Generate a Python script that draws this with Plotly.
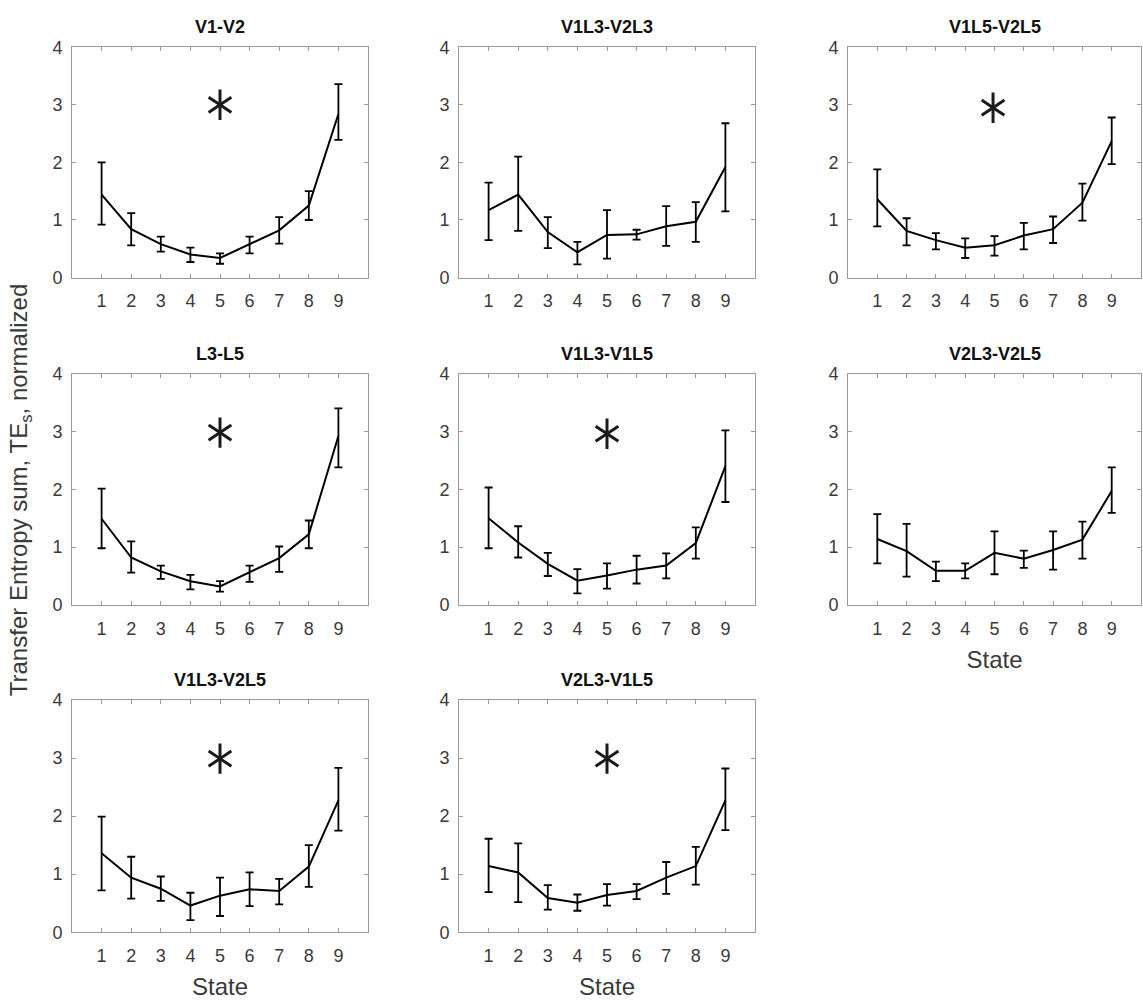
import plotly.graph_objects as go

# ---------------- data ----------------
states = [1, 2, 3, 4, 5, 6, 7, 8, 9]
panel_titles = ["V1-V2", "V1L3-V2L3", "V1L5-V2L5",
                "L3-L5", "V1L3-V1L5", "V2L3-V2L5",
                "V1L3-V2L5", "V2L3-V1L5"]

mean_v1_v2 = [1.44, 0.84, 0.58, 0.40, 0.34, 0.58, 0.82, 1.25, 2.84]
hi_v1_v2 = [2.00, 1.12, 0.71, 0.52, 0.42, 0.71, 1.05, 1.50, 3.36]
lo_v1_v2 = [0.92, 0.56, 0.45, 0.27, 0.24, 0.42, 0.59, 1.00, 2.39]

mean_v1l3_v2l3 = [1.17, 1.44, 0.79, 0.44, 0.74, 0.75, 0.89, 0.97, 1.92]
hi_v1l3_v2l3 = [1.65, 2.10, 1.05, 0.62, 1.17, 0.83, 1.24, 1.31, 2.68]
lo_v1l3_v2l3 = [0.65, 0.81, 0.51, 0.23, 0.33, 0.66, 0.55, 0.62, 1.15]

mean_v1l5_v2l5 = [1.36, 0.81, 0.65, 0.52, 0.56, 0.73, 0.84, 1.30, 2.37]
hi_v1l5_v2l5 = [1.88, 1.03, 0.77, 0.68, 0.72, 0.95, 1.06, 1.63, 2.78]
lo_v1l5_v2l5 = [0.89, 0.56, 0.49, 0.34, 0.38, 0.49, 0.60, 0.99, 1.97]

mean_l3_l5 = [1.49, 0.82, 0.58, 0.41, 0.32, 0.56, 0.81, 1.22, 2.92]
hi_l3_l5 = [2.01, 1.10, 0.68, 0.52, 0.41, 0.68, 1.01, 1.46, 3.40]
lo_l3_l5 = [0.98, 0.56, 0.45, 0.27, 0.23, 0.40, 0.57, 0.98, 2.38]

mean_v1l3_v1l5 = [1.50, 1.08, 0.71, 0.42, 0.51, 0.61, 0.68, 1.07, 2.40]
hi_v1l3_v1l5 = [2.03, 1.36, 0.90, 0.62, 0.72, 0.85, 0.89, 1.34, 3.02]
lo_v1l3_v1l5 = [0.98, 0.82, 0.50, 0.20, 0.28, 0.37, 0.46, 0.80, 1.78]

mean_v2l3_v2l5 = [1.14, 0.93, 0.59, 0.59, 0.90, 0.80, 0.95, 1.13, 1.97]
hi_v2l3_v2l5 = [1.57, 1.40, 0.75, 0.72, 1.27, 0.94, 1.27, 1.44, 2.38]
lo_v2l3_v2l5 = [0.72, 0.49, 0.41, 0.46, 0.53, 0.64, 0.61, 0.80, 1.59]

mean_v1l3_v2l5 = [1.36, 0.94, 0.75, 0.46, 0.63, 0.74, 0.71, 1.13, 2.27]
hi_v1l3_v2l5 = [1.99, 1.30, 0.96, 0.68, 0.94, 1.03, 0.92, 1.50, 2.83]
lo_v1l3_v2l5 = [0.72, 0.58, 0.54, 0.21, 0.28, 0.45, 0.48, 0.78, 1.75]

mean_v2l3_v1l5 = [1.14, 1.03, 0.59, 0.51, 0.64, 0.71, 0.94, 1.14, 2.27]
hi_v2l3_v1l5 = [1.61, 1.53, 0.81, 0.65, 0.83, 0.83, 1.21, 1.47, 2.82]
lo_v2l3_v1l5 = [0.69, 0.52, 0.39, 0.37, 0.46, 0.57, 0.66, 0.82, 1.76]

panel_means = [mean_v1_v2, mean_v1l3_v2l3, mean_v1l5_v2l5, mean_l3_l5,
               mean_v1l3_v1l5, mean_v2l3_v2l5, mean_v1l3_v2l5, mean_v2l3_v1l5]
panel_hi = [hi_v1_v2, hi_v1l3_v2l3, hi_v1l5_v2l5, hi_l3_l5,
            hi_v1l3_v1l5, hi_v2l3_v2l5, hi_v1l3_v2l5, hi_v2l3_v1l5]
panel_lo = [lo_v1_v2, lo_v1l3_v2l3, lo_v1l5_v2l5, lo_l3_l5,
            lo_v1l3_v1l5, lo_v2l3_v2l5, lo_v1l3_v2l5, lo_v2l3_v1l5]

# significance asterisk (panel index -> position)
sig_panels = [0, 2, 3, 4, 6, 7]
sig_x = [5, 4.95, 5, 5, 5, 5]
sig_y = [3.0, 2.95, 2.98, 2.96, 2.99, 2.99]

x_tick_vals = [1, 2, 3, 4, 5, 6, 7, 8, 9]
y_tick_vals = [0, 1, 2, 3, 4]
x_label = "State"
y_label = "Transfer Entropy sum, TE<sub>s</sub>, normalized"

# ---------------- layout geometry ----------------
W, H = 1143, 1004
col_px = [(72, 368), (459, 755), (848, 1141)]
row_px = [(38, 273), (371, 607), (704, 941)]
panel_pos = [(0, 0), (0, 1), (0, 2), (1, 0), (1, 1), (1, 2), (2, 0), (2, 1)]
state_label_panels = [5, 6, 7]

FONT = "Liberation Sans, Arial, sans-serif"
AX_COLOR = "#9a9a9a"
TICK_FONT_COLOR = "#3a3a3a"

fig = go.Figure()
layout_axes = {}
annotations = []

for i, (r, c) in enumerate(panel_pos):
    k = i + 1
    xa = "x" if k == 1 else f"x{k}"
    ya = "y" if k == 1 else f"y{k}"
    xkey = "xaxis" if k == 1 else f"xaxis{k}"
    ykey = "yaxis" if k == 1 else f"yaxis{k}"

    means = panel_means[i]
    err_p = [h - m for h, m in zip(panel_hi[i], means)]
    err_m = [m - l for m, l in zip(means, panel_lo[i])]

    fig.add_trace(go.Scatter(
        x=states, y=means, mode="lines",
        line=dict(color="black", width=2),
        error_y=dict(type="data", symmetric=False, array=err_p, arrayminus=err_m,
                     color="black", thickness=1.8, width=4),
        xaxis=xa, yaxis=ya, showlegend=False, hoverinfo="skip"))

    if i in sig_panels:
        j = sig_panels.index(i)
        for sym in ("y-up-open", "y-down-open"):
            fig.add_trace(go.Scatter(
                x=[sig_x[j]], y=[sig_y[j]], mode="markers",
                marker=dict(symbol=sym, size=19, color="#1a1a1a",
                            line=dict(color="#1a1a1a", width=3)),
                xaxis=xa, yaxis=ya, showlegend=False, hoverinfo="skip"))

    x0, x1 = col_px[c]
    yt, yb = row_px[r]
    xdom = [x0 / W, x1 / W]
    ydom = [1 - yb / H, 1 - yt / H]

    layout_axes[xkey] = dict(
        domain=xdom, anchor=ya, range=[0, 10], tickvals=x_tick_vals,
        ticks="inside", ticklen=4, tickcolor=AX_COLOR, showline=True,
        linecolor=AX_COLOR, linewidth=1, mirror="ticks", showgrid=False,
        zeroline=False, tickfont=dict(family=FONT, size=18, color=TICK_FONT_COLOR),
        ticklabelstandoff=7, fixedrange=True)
    if i in state_label_panels:
        layout_axes[xkey]["title"] = dict(
            text=x_label, font=dict(family=FONT, size=24, color=TICK_FONT_COLOR),
            standoff=13)
    layout_axes[ykey] = dict(
        domain=ydom, anchor=xa, range=[0, 4], tickvals=y_tick_vals,
        ticks="inside", ticklen=4, tickcolor=AX_COLOR, showline=True,
        linecolor=AX_COLOR, linewidth=1, mirror="ticks", showgrid=False,
        zeroline=False, tickfont=dict(family=FONT, size=18, color=TICK_FONT_COLOR),
        ticklabelstandoff=5, fixedrange=True)

    annotations.append(dict(
        text=f"<b>{panel_titles[i]}</b>", x=(xdom[0] + xdom[1]) / 2, y=ydom[1],
        xref="paper", yref="paper", xanchor="center", yanchor="bottom",
        yshift=8, showarrow=False, font=dict(family=FONT, size=18, color="#111")))

annotations.append(dict(
    text=y_label, x=20 / W, y=1 - 490 / H, xref="paper", yref="paper",
    xanchor="center", yanchor="middle", textangle=-90, showarrow=False,
    font=dict(family=FONT, size=24, color=TICK_FONT_COLOR)))

fig.update_layout(
    width=W, height=H, autosize=False,
    margin=dict(l=0, r=0, t=0, b=0),
    paper_bgcolor="white", plot_bgcolor="white",
    annotations=annotations, showlegend=False,
    **layout_axes)

fig.write_html("out.html", config={"displayModeBar": False},
               post_script="document.body.style.margin='0';document.body.style.padding='0';")
